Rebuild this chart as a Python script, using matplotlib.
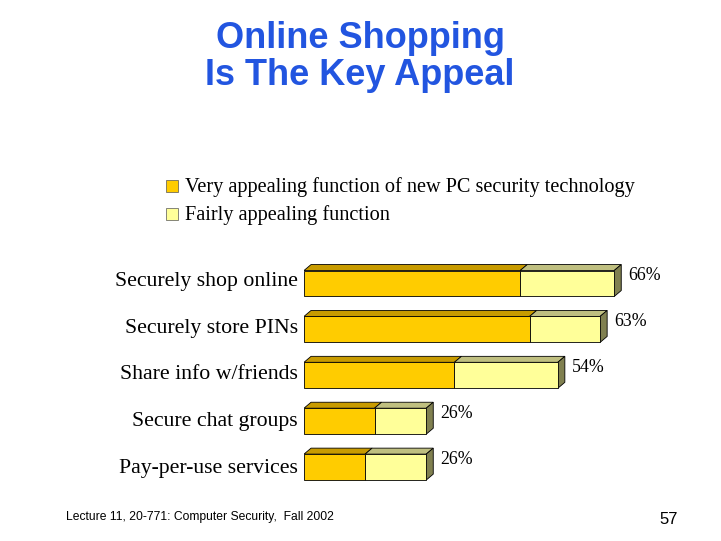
import numpy as np
import matplotlib
matplotlib.use('Agg')
import matplotlib.pyplot as plt
from matplotlib.patches import Polygon, Rectangle

# Data
categories = ['Securely shop online', 'Securely store PINs', 'Share info w/friends',
              'Secure chat groups', 'Pay-per-use services']
very = [46, 48, 32, 15, 13]
fairly = [20, 15, 22, 11, 13]
totals = [66, 63, 54, 26, 26]
legend_labels = ['Very appealing function of new PC security technology',
                 'Fairly appealing function']

# Colours
very_front, very_top = '#FFCC00', '#C89B00'
fair_front, fair_top = '#FFFF99', '#BFBF80'
side_col = '#808050'

fig = plt.figure(figsize=(7.21, 5.41), dpi=100)
W, H = 721.0, 541.0

# Title
fig.text(360 / W, 1 - 57 / H, 'Online Shopping\nIs The Key Appeal', ha='center', va='center',
         fontsize=26, fontweight='bold', color='#2255E0', family='Liberation Sans',
         linespacing=1.05)

# Legend drawn by hand
for i, (lab, col) in enumerate(zip(legend_labels, [very_front, fair_front])):
    yc = 186 + 28 * i
    fig.patches.append(Rectangle((166 / W, 1 - (yc + 6) / H), 12 / W, 12 / H,
                                 facecolor=col, edgecolor='#555555', linewidth=0.5,
                                 transform=fig.transFigure, figure=fig))
    fig.text(185 / W, 1 - (yc + 1) / H, lab, ha='left', va='center', fontsize=14.6,
             family='Liberation Serif')

# Axes for bars
ax = fig.add_axes([304 / W, 1 - 495 / H, 376 / W, 240 / H])
ax.set_xlim(0, 80)
ax.set_ylim(4.608, -0.621)
ax.axis('off')

h = 0.566
dx, dy = 1.5, 0.13
ypos = np.arange(len(categories))

ax.barh(ypos, very, height=h, color=very_front, edgecolor='black', linewidth=0.6, zorder=3)
ax.barh(ypos, fairly, left=very, height=h, color=fair_front, edgecolor='black',
        linewidth=0.6, zorder=3)

for i, (y, v, f, t, name) in enumerate(zip(ypos, very, fairly, totals, categories)):
    top = y - h / 2
    bot = y + h / 2
    # top faces
    ax.add_patch(Polygon([(0, top), (dx, top - dy), (v + dx, top - dy), (v, top)],
                         facecolor=very_top, edgecolor='black', linewidth=0.6, zorder=2))
    ax.add_patch(Polygon([(v, top), (v + dx, top - dy), (t + dx, top - dy), (t, top)],
                         facecolor=fair_top, edgecolor='black', linewidth=0.6, zorder=2))
    # side face
    ax.add_patch(Polygon([(t, top), (t + dx, top - dy), (t + dx, bot - dy), (t, bot)],
                         facecolor=side_col, edgecolor='black', linewidth=0.6, zorder=2))
    ax.text(t + dx + 1.5, y - 0.17, '%d%%' % t, ha='left', va='center', fontsize=12.8,
            family='Liberation Serif')
    # category labels sit on a slightly wider pitch than the bars
    ax.text(-1.3, y - 0.05 + 0.02 * i, name, ha='right', va='center', fontsize=15.7,
            family='Liberation Serif')

# Footer
fig.text(66 / W, 1 - 517 / H, 'Lecture 11, 20-771: Computer Security,  Fall 2002',
         ha='left', va='center', fontsize=8.7, family='Liberation Sans')
fig.text(678 / W, 1 - 520 / H, '57', ha='right', va='center', fontsize=12,
         family='Liberation Sans')

fig.savefig('out.png', dpi=100)
